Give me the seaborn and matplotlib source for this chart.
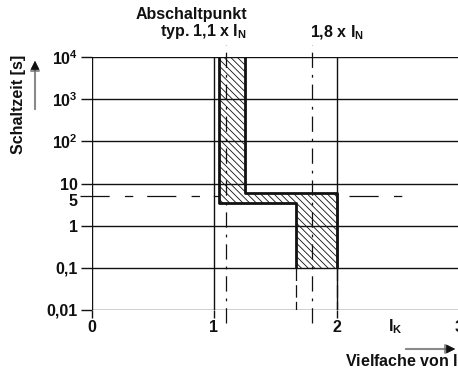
import matplotlib

matplotlib.use("Agg")

import matplotlib.pyplot as plt
import matplotlib.transforms as mtransforms
import pandas as pd
import seaborn as sns


# =========================
# Data
# =========================

# Band limits of the tripping characteristic (multiples of I_N, seconds)
upper_x = [1.25, 1.25, 2.0, 2.0]
upper_t = [1e4, 6.0, 6.0, 0.1]
lower_x = [1.04, 1.04, 1.67, 1.67]
lower_t = [1e4, 3.5, 3.5, 0.1]

# Dashed continuation of the band below 0.1 s
ext_x = [1.67, 2.0]
ext_t = [0.1, 0.01]

# Reference markers
trip_point = 1.1
marker_18 = 1.8
ref_time = 5

# Axes
time_grid = [0.01, 0.1, 1, 10, 100, 1000, 10000]
time_ticks = [0.01, 0.1, 1, 5, 10, 100, 1000, 10000]
time_labels = ["0,01", "0,1", "1", "5", "10",
               r"$\mathbf{10^{2}}$", r"$\mathbf{10^{3}}$", r"$\mathbf{10^{4}}$"]
mult_grid = [0, 1, 2]
mult_ticks = [0, 1, 2, 3]
mult_labels = ["0", "1", "2", "3"]

W, H = 458, 375
INK = "#111111"
FS = 11.5


def px(x, y):
    return x / W, 1 - y / H


sns.set_theme(style="white")
plt.rcParams["font.family"] = ["Liberation Sans", "DejaVu Sans"]
plt.rcParams["font.weight"] = "bold"
plt.rcParams["mathtext.fontset"] = "custom"
plt.rcParams["mathtext.rm"] = "Liberation Sans:bold"
plt.rcParams["mathtext.bf"] = "Liberation Sans:bold"
plt.rcParams["lines.scale_dashes"] = False
plt.rcParams["hatch.linewidth"] = 0.6
plt.rcParams["hatch.color"] = INK

fig = plt.figure(figsize=(W / 100, H / 100), dpi=100)
ax = fig.add_axes([91.5 / W, 65 / H, 367.5 / W, 253 / H])
ax.set_yscale("log")
ax.set_xlim(0, 3)
ax.set_ylim(0.01, 1e4)
for s in ax.spines.values():
    s.set_visible(False)

# Grid
for t in time_grid:
    ax.axhline(t, color=INK, lw=1.0, zorder=1)
for m in mult_grid:
    ax.axvline(m, color=INK, lw=1.0, zorder=1)

# Band (hatched)
poly_x = lower_x + upper_x[::-1]
poly_t = lower_t + upper_t[::-1]
ax.fill(poly_x, poly_t, facecolor="none", edgecolor=INK, hatch="\\" * 5,
        linewidth=0, zorder=2)

band = pd.concat([
    pd.DataFrame({"mult": upper_x, "time": upper_t, "edge": "upper"}),
    pd.DataFrame({"mult": lower_x, "time": lower_t, "edge": "lower"}),
])
sns.lineplot(data=band, x="mult", y="time", units="edge", estimator=None,
             sort=False, color=INK, lw=2.0, ax=ax, zorder=4,
             solid_joinstyle="round", solid_capstyle="butt")

# Dashed continuation below 0.1 s
for xe in ext_x:
    ax.plot([xe, xe], ext_t, color=INK, lw=0.9, ls=(0, (9, 3)), zorder=3)

# Reference lines
trans = ax.get_xaxis_transform()
dashdot = (0, (11, 5, 2, 5))
ax.plot([trip_point, trip_point], [-0.05, 1.048], transform=trans, color=INK,
        lw=0.9, ls=dashdot, clip_on=False, zorder=3)
ax.plot([marker_18, marker_18], [-0.05, 1.048], transform=trans, color=INK,
        lw=0.9, ls=dashdot, clip_on=False, zorder=3)
long_short = (0, (21, 11, 6, 10))
ax.plot([-0.094, lower_x[0]], [ref_time, ref_time], color=INK, lw=0.9,
        ls=long_short, clip_on=False, zorder=3)
ax.plot([2.1, 2.54], [ref_time, ref_time], color=INK, lw=0.9,
        ls=long_short, clip_on=False, zorder=3)

# Ticks (after seaborn, which resets labels)
ax.set_yticks(time_ticks)
ax.set_yticklabels(time_labels, fontsize=FS, fontweight="bold")
ax.yaxis.set_minor_locator(matplotlib.ticker.NullLocator())
ax.tick_params(axis="y", direction="out", length=8, width=1.0, color=INK,
               pad=2, left=True, labelcolor=INK)
five = ax.yaxis.get_major_ticks()[time_ticks.index(ref_time)]
five.tick1line.set_visible(False)
five.label1.set_transform(five.label1.get_transform()
                          + mtransforms.ScaledTranslation(0, -2.5 / 72,
                                                          fig.dpi_scale_trans))
ax.set_xticks(mult_ticks)
ax.set_xticklabels(mult_labels, fontsize=FS, fontweight="bold")
ax.tick_params(axis="x", direction="out", length=6, width=1.0, color=INK,
               pad=1, bottom=True, labelcolor=INK)
ax.xaxis.get_major_ticks()[3].tick1line.set_visible(False)
ax.set_xlabel("")
ax.set_ylabel("")

# Annotations
fig.text(*px(247, 24), "Abschaltpunkt\ntyp. 1,1 x I$_\\mathrm{N}$", ha="right",
         va="center", multialignment="right", fontsize=FS, fontweight="bold",
         color=INK, linespacing=1.0)
fig.text(*px(310, 33), "1,8 x I$_\\mathrm{N}$", ha="left", va="center",
         fontsize=FS, fontweight="bold", color=INK)
fig.text(*px(19, 104), "Schaltzeit [s]", rotation=90, ha="center", va="center",
         fontsize=FS, fontweight="bold", color=INK)
fig.text(*px(395, 327), "I$_\\mathrm{K}$", ha="center", va="center",
         fontsize=FS, fontweight="bold", color=INK)
fig.text(*px(345, 362), "Vielfache von I$_\\mathrm{N}$", ha="left",
         va="center", fontsize=FS, fontweight="bold", color=INK)

# Axis arrows
fig.add_artist(matplotlib.patches.FancyArrowPatch(
    px(35, 112), px(35, 58), transform=fig.transFigure, arrowstyle="-|>",
    mutation_scale=14, color="#8a8a8a", lw=1.5))
fig.add_artist(matplotlib.patches.FancyArrowPatch(
    px(35, 74), px(35, 58), transform=fig.transFigure, arrowstyle="-|>",
    mutation_scale=14, color=INK, lw=0.5))
fig.add_artist(matplotlib.patches.FancyArrowPatch(
    px(403, 349), px(458, 349), transform=fig.transFigure, arrowstyle="-|>",
    mutation_scale=14, color="#8a8a8a", lw=1.5))
fig.add_artist(matplotlib.patches.FancyArrowPatch(
    px(442, 349), px(458, 349), transform=fig.transFigure, arrowstyle="-|>",
    mutation_scale=14, color=INK, lw=0.5))

fig.savefig("out.png", dpi=100)
plt.close(fig)
